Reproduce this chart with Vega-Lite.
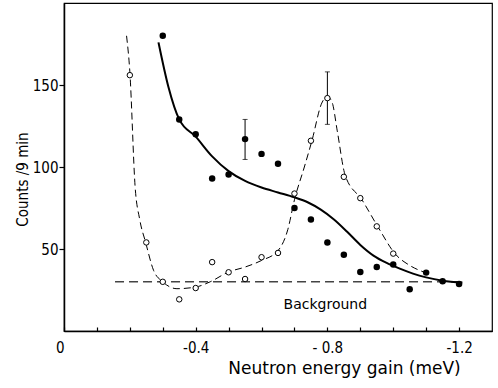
{
  "$schema": "https://vega.github.io/schema/vega-lite/v6.json",
  "width": 428,
  "height": 328,
  "autosize": {"type": "none"},
  "padding": {"left": 64, "top": 3, "right": 6, "bottom": 57},
  "background": "white",
  "config": {
    "view": {"stroke": "black", "strokeWidth": 1.2},
    "font": "DejaVu Sans",
    "axis": {"grid": false, "domainColor": "black", "domainWidth": 1.5, "tickColor": "black", "labelColor": "black", "titleColor": "black", "titleFontWeight": "normal"}
  },
  "datasets": {
    "filled": [
      {"x": -0.30, "y": 180}, {"x": -0.35, "y": 129}, {"x": -0.40, "y": 120}, {"x": -0.45, "y": 93},
      {"x": -0.50, "y": 95.4}, {"x": -0.55, "y": 117}, {"x": -0.60, "y": 108}, {"x": -0.65, "y": 102},
      {"x": -0.70, "y": 75}, {"x": -0.75, "y": 68}, {"x": -0.80, "y": 54}, {"x": -0.85, "y": 46.5},
      {"x": -0.90, "y": 36}, {"x": -0.95, "y": 39}, {"x": -1.00, "y": 40.5}, {"x": -1.05, "y": 25.4},
      {"x": -1.10, "y": 35.6}, {"x": -1.15, "y": 30.3}, {"x": -1.20, "y": 28.7}
    ],
    "open": [
      {"x": -0.20, "y": 156}, {"x": -0.25, "y": 54}, {"x": -0.30, "y": 30}, {"x": -0.35, "y": 19.3},
      {"x": -0.40, "y": 26.2}, {"x": -0.45, "y": 42}, {"x": -0.50, "y": 35.8}, {"x": -0.55, "y": 31.7},
      {"x": -0.60, "y": 45}, {"x": -0.65, "y": 47.6}, {"x": -0.70, "y": 83.8}, {"x": -0.75, "y": 116},
      {"x": -0.80, "y": 142}, {"x": -0.85, "y": 94}, {"x": -0.90, "y": 81}, {"x": -0.95, "y": 63.8},
      {"x": -1.00, "y": 47.2}
    ],
    "dashed": [
      {"x": -0.19, "y": 180}, {"x": -0.20, "y": 158}, {"x": -0.216, "y": 88}, {"x": -0.23, "y": 68},
      {"x": -0.248, "y": 54}, {"x": -0.272, "y": 37}, {"x": -0.30, "y": 30}, {"x": -0.343, "y": 25.8},
      {"x": -0.40, "y": 26.8}, {"x": -0.444, "y": 30}, {"x": -0.50, "y": 36}, {"x": -0.55, "y": 39},
      {"x": -0.60, "y": 43}, {"x": -0.65, "y": 49}, {"x": -0.68, "y": 62}, {"x": -0.70, "y": 80},
      {"x": -0.73, "y": 100}, {"x": -0.753, "y": 116}, {"x": -0.783, "y": 139}, {"x": -0.80, "y": 143},
      {"x": -0.815, "y": 139}, {"x": -0.83, "y": 122}, {"x": -0.854, "y": 95}, {"x": -0.905, "y": 80},
      {"x": -0.955, "y": 63}, {"x": -1.006, "y": 47}, {"x": -1.05, "y": 40}, {"x": -1.092, "y": 36}
    ],
    "solid": [
      {"x": -0.287, "y": 176}, {"x": -0.317, "y": 149}, {"x": -0.35, "y": 129}, {"x": -0.40, "y": 118.5},
      {"x": -0.45, "y": 106.5}, {"x": -0.50, "y": 97.5}, {"x": -0.55, "y": 91.5}, {"x": -0.60, "y": 87.5},
      {"x": -0.65, "y": 84.5}, {"x": -0.70, "y": 81.5}, {"x": -0.74, "y": 78.5}, {"x": -0.78, "y": 74},
      {"x": -0.82, "y": 68}, {"x": -0.86, "y": 60.5}, {"x": -0.90, "y": 52.5}, {"x": -0.94, "y": 46},
      {"x": -0.98, "y": 41.5}, {"x": -1.02, "y": 38}, {"x": -1.06, "y": 35}, {"x": -1.10, "y": 32.7},
      {"x": -1.15, "y": 30.7}, {"x": -1.21, "y": 29.5}
    ],
    "bg": [{"x": -0.155, "y": 30}, {"x": -1.2, "y": 30}],
    "err": [{"x": -0.55, "y": 104.6, "y2": 129}, {"x": -0.80, "y": 126, "y2": 158}],
    "label": [{"x": -0.667, "y": 15.7, "label": "Background"}]
  },
  "encoding": {
    "x": {
      "field": "x", "type": "quantitative",
      "scale": {"domain": [0, -1.3], "nice": false, "zero": false},
      "axis": {
        "values": [0, -0.1, -0.2, -0.3, -0.4, -0.5, -0.6, -0.7, -0.8, -0.9, -1.0, -1.1, -1.2],
        "tickSize": -4, "tickWidth": 1.2, "labelPadding": 13,
        "labelExpr": "abs(datum.value) < 0.01 ? '0' : abs(datum.value + 0.4) < 0.01 ? '-0.4' : abs(datum.value + 0.8) < 0.01 ? '- 0.8' : abs(datum.value + 1.2) < 0.01 ? '-1.2' : ''",
        "labelFont": "DejaVu Sans Condensed", "labelFontSize": 15,
        "labelAlign": {"condition": {"test": "datum.value == 0", "value": "right"}, "value": "center"},
        "title": "Neutron energy gain (meV)", "titleFont": "DejaVu Sans", "titleFontSize": 17,
        "titleX": 280, "titleY": 42, "titleAlign": "center", "titleBaseline": "alphabetic"
      }
    },
    "y": {
      "field": "y", "type": "quantitative",
      "scale": {"domain": [0, 200], "nice": false},
      "axis": {
        "values": [50, 100, 150], "tickSize": 5, "tickWidth": 1.2, "labelPadding": 1,
        "labelFont": "DejaVu Sans Condensed", "labelFontSize": 15,
        "title": "Counts /9 min", "titleFont": "DejaVu Sans Condensed", "titleFontSize": 15,
        "titlePadding": 2, "titleY": 176
      }
    }
  },
  "layer": [
    {"data": {"name": "bg"}, "mark": {"type": "line", "color": "#444", "strokeWidth": 1.5, "strokeDash": [9, 5]}, "encoding": {}},
    {"data": {"name": "dashed"}, "mark": {"type": "line", "color": "black", "strokeWidth": 1, "strokeDash": [7, 4], "interpolate": "monotone"},
     "encoding": {"order": {"field": "x", "sort": "descending"}}},
    {"data": {"name": "solid"}, "mark": {"type": "line", "color": "black", "strokeWidth": 2, "interpolate": "monotone"},
     "encoding": {"order": {"field": "x", "sort": "descending"}}},
    {"data": {"name": "err"}, "mark": {"type": "errorbar", "ticks": true, "color": "black", "thickness": 1}, "encoding": {"y2": {"field": "y2"}}},
    {"data": {"name": "open"}, "mark": {"type": "point", "shape": "circle", "filled": true, "fill": "white", "stroke": "black", "strokeWidth": 1, "size": 30, "opacity": 1}, "encoding": {}},
    {"data": {"name": "filled"}, "mark": {"type": "circle", "color": "black", "size": 42, "opacity": 1}, "encoding": {}},
    {"data": {"name": "label"}, "mark": {"type": "text", "align": "left", "baseline": "middle", "font": "DejaVu Sans", "fontSize": 14, "color": "black"},
     "encoding": {"text": {"field": "label"}}}
  ]
}
